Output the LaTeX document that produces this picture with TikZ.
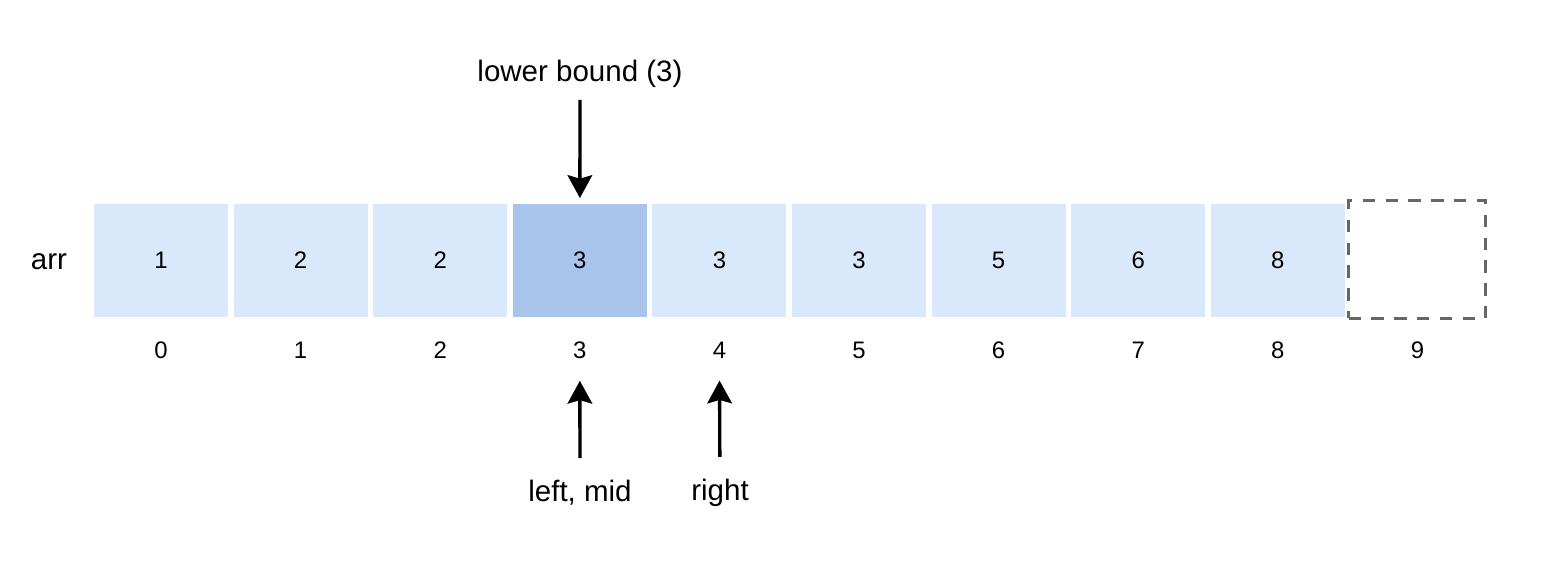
\documentclass[tikz,border=0pt]{standalone}
\usepackage{fontspec}
\setmainfont{Liberation Sans}
\usepackage{tikz}
\usetikzlibrary{arrows.meta}
\definecolor{cellblue}{HTML}{DAE8FC}
\definecolor{cellhi}{HTML}{A9C4EB}
\definecolor{dashgray}{HTML}{666666}

\begin{document}
\begin{tikzpicture}[x=0.02cm,y=-0.02cm,
		cell/.style={minimum width=2.68cm,minimum height=2.26cm,inner sep=0,outer sep=0,font=\fontsize{13.6}{16}\selectfont},
		idx/.style={inner sep=0,font=\fontsize{13.6}{16}\selectfont},
		lbl/.style={inner sep=0,font=\fontsize{16.8}{20}\selectfont},
		ptr/.style={line width=1.9pt,-{Stealth[length=13pt,width=14pt,inset=2pt]}}]
		\useasboundingbox (0,0) rectangle (1550,570);
		\node[lbl] (arr) at (49,262) {arr};
		\foreach \v/\f [count=\i from 0] in {1/cellblue,2/cellblue,2/cellblue,3/cellhi,3/cellblue,3/cellblue,5/cellblue,6/cellblue,8/cellblue}
			\node[cell,fill=\f] (c\i) at (161+139.6*\i,260.5) {\v};
		\node[cell,draw=dashgray,line width=1.7pt,dash pattern=on 7pt off 6pt,minimum width=2.74cm,minimum height=2.36cm] (c9) at (1417,259.5) {};
		\foreach \i in {0,...,9}
			\node[idx] (i\i) at (161+139.6*\i,350) {\i};
		\node[lbl] (lb) at (580,73.5) {lower bound (3)};
		\node[lbl] (lm) at (580,493) {left, mid};
		\node[lbl] (rt) at (720,493) {right};
		\draw[ptr,shorten <=7pt,shorten >=3.4pt] (lb) -- (c3);
		\draw[ptr,shorten <=12.5pt,shorten >=12.5pt] (lm) -- (i3);
		\draw[ptr,shorten <=12.5pt,shorten >=12.5pt] (rt) -- (i4);
		\end{tikzpicture}
\end{document}
